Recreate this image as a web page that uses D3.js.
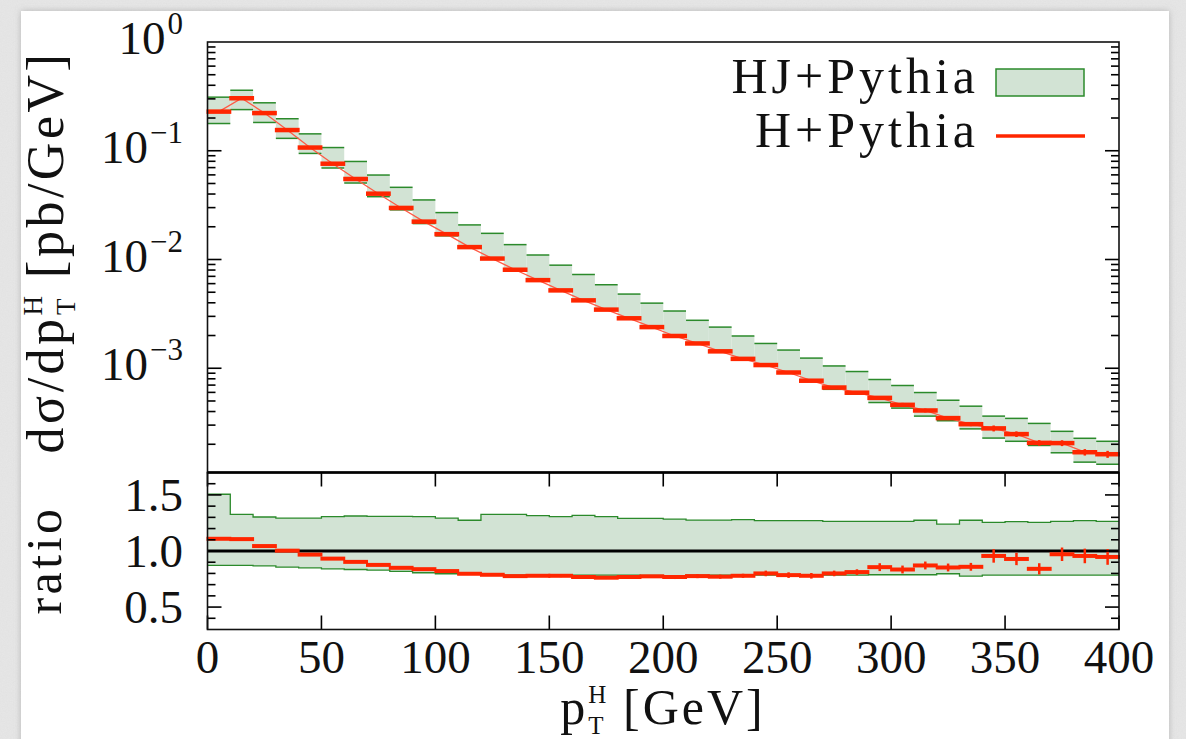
<!DOCTYPE html>
<html>
<head>
<meta charset="utf-8">
<script src="https://cdn.jsdelivr.net/npm/d3@7"></script>
<style>
  html, body { margin: 0; padding: 0; background: #e8e8e8; }
  svg { display: block; }
  text { font-family: 'Liberation Serif', 'DejaVu Serif', serif; fill: #111; }
</style>
</head>
<body>
<script>
const width = 1186, height = 739;

// bins of 10 GeV, lower edges
const binLo = [0,10,20,30,40,50,60,70,80,90,100,110,120,130,140,150,160,170,180,190,
               200,210,220,230,240,250,260,270,280,290,300,310,320,330,340,350,360,370,380,390];
const binWidth = 10;

// HJ+Pythia band, d sigma / d pT [pb/GeV]
const hjUpper = [0.311,0.360,0.276,0.197,0.143,0.107,0.0797,0.0598,0.0461,0.0353,
                 0.0270,0.0208,0.0174,0.0137,0.0110,0.00887,0.00728,0.00586,0.00481,0.00397,
                 0.00336,0.00276,0.00239,0.00198,0.00169,0.00147,0.00124,0.00105,0.000933,0.000788,
                 0.000694,0.000598,0.000508,0.000448,0.000363,0.000346,0.000311,0.000263,0.000227,0.000213];
const hjLower = [0.178,0.239,0.182,0.130,0.0945,0.0694,0.0505,0.0378,0.0286,0.0214,
                 0.0165,0.0128,0.0102,0.00805,0.00652,0.00525,0.00426,0.00350,0.00291,0.00242,
                 0.00200,0.00172,0.00146,0.00123,0.00105,0.00091,0.00078,0.00064,0.00058,0.000484,
                 0.000430,0.000363,0.000329,0.000277,0.000228,0.000213,0.000195,0.000167,0.000137,0.000131];
// H+Pythia
const hPythia = [0.229,0.304,0.222,0.155,0.107,0.0760,0.0550,0.0403,0.0298,0.0223,
                 0.0171,0.0130,0.0102,0.00805,0.00646,0.00520,0.00421,0.00346,0.00288,0.00239,
                 0.00198,0.00169,0.00143,0.00122,0.00107,0.000914,0.000768,0.000665,0.000596,0.000534,
                 0.000461,0.000409,0.000348,0.000306,0.000280,0.000248,0.000206,0.000205,0.000169,0.000162];

// ratio panel
const ratioUpper = [1.506,1.326,1.303,1.294,1.294,1.306,1.312,1.309,1.309,1.306,
                    1.294,1.274,1.326,1.326,1.315,1.306,1.318,1.306,1.291,1.291,
                    1.285,1.276,1.276,1.279,1.270,1.270,1.270,1.265,1.265,1.265,
                    1.265,1.274,1.240,1.274,1.256,1.262,1.256,1.265,1.270,1.265];
const ratioLower = [0.871,0.871,0.868,0.856,0.850,0.841,0.835,0.829,0.818,0.806,
                    0.797,0.791,0.788,0.785,0.785,0.785,0.785,0.785,0.785,0.783,
                    0.779,0.785,0.785,0.785,0.785,0.785,0.785,0.785,0.785,0.788,
                    0.788,0.788,0.797,0.776,0.785,0.785,0.785,0.785,0.785,0.785];
const ratioH = [1.109,1.106,1.044,1.003,0.968,0.932,0.903,0.876,0.850,0.838,
                0.821,0.797,0.788,0.776,0.779,0.779,0.768,0.762,0.768,0.774,
                0.768,0.776,0.771,0.779,0.800,0.785,0.779,0.800,0.812,0.856,
                0.835,0.871,0.853,0.859,0.956,0.929,0.841,0.971,0.956,0.947];
const ratioErr = [0.004,0.004,0.004,0.004,0.004,0.004,0.004,0.004,0.004,0.004,
                  0.008,0.008,0.008,0.008,0.008,0.012,0.012,0.012,0.012,0.012,
                  0.018,0.018,0.018,0.018,0.025,0.025,0.025,0.025,0.025,0.035,
                  0.035,0.035,0.035,0.035,0.060,0.055,0.050,0.060,0.065,0.070];

const xTicks = [0,50,100,150,200,250,300,350,400];
const yMainLabels = [1, 0.1, 0.01, 0.001];
const yMainExp = ["0", "\u22121", "\u22122", "\u22123"];
const yRatioLabels = [1.5, 1.0, 0.5];

const green = "#2b8a2b", bandFill = "#d2e3d4", red = "#ff2600";

const svg = d3.select("body").append("svg").attr("width", width).attr("height", height);

// paper background with noise border
const defs = svg.append("defs");
const f = defs.append("filter").attr("id", "noise").attr("x", 0).attr("y", 0).attr("width", "100%").attr("height", "100%");
f.append("feTurbulence").attr("type", "fractalNoise").attr("baseFrequency", 0.8).attr("numOctaves", 2).attr("seed", 3);
f.append("feColorMatrix").attr("type", "matrix")
  .attr("values", "0 0 0 0 0.5  0 0 0 0 0.5  0 0 0 0 0.5  0 0 0 0.35 0");
svg.append("rect").attr("width", width).attr("height", height).attr("fill", "#e7e7e7");
svg.append("rect").attr("width", width).attr("height", height).attr("filter", "url(#noise)").attr("opacity", 0.35);
const sh = defs.append("filter").attr("id", "shadow").attr("x", "-5%").attr("y", "-5%").attr("width", "110%").attr("height", "110%");
sh.append("feDropShadow").attr("dx", 0).attr("dy", 0).attr("stdDeviation", 3).attr("flood-color", "#888").attr("flood-opacity", 0.5);
svg.append("rect").attr("x", 21).attr("y", 11).attr("width", 1148).attr("height", 740)
  .attr("fill", "#fff").attr("filter", "url(#shadow)");

// scales
const mainTop = 42, mainBot = 472.5, ratioBot = 629.5;
const x = d3.scaleLinear().domain([0, 400]).range([207.5, 1119]);
const yMain = d3.scaleLog().domain([1.1e-4, 1]).range([mainBot, mainTop]);
const yRatio = d3.scaleLinear().domain([0.3, 1.7]).range([ratioBot, mainBot]);

const bins = binLo.map((lo, i) => ({
  lo, hi: lo + binWidth, mid: lo + binWidth / 2,
  up: hjUpper[i], dn: hjLower[i], h: hPythia[i],
  rUp: ratioUpper[i], rDn: ratioLower[i], r: ratioH[i], rErr: ratioErr[i]
}));

// ---------- main panel ----------
const main = svg.append("g");
main.selectAll("rect.band").data(bins).join("rect")
  .attr("x", d => x(d.lo)).attr("width", d => x(d.hi) - x(d.lo))
  .attr("y", d => yMain(d.up)).attr("height", d => yMain(d.dn) - yMain(d.up))
  .attr("fill", bandFill);
["up", "dn"].forEach(k => {
  main.selectAll("line.g" + k).data(bins).join("line")
    .attr("x1", d => x(d.lo)).attr("x2", d => x(d.hi))
    .attr("y1", d => yMain(d[k])).attr("y2", d => yMain(d[k]))
    .attr("stroke", green).attr("stroke-width", 1.5);
});
main.append("path").datum(bins)
  .attr("d", d3.line().x(d => x(d.mid)).y(d => yMain(d.h)))
  .attr("fill", "none").attr("stroke", "#ff5a45").attr("stroke-width", 1.3);
main.selectAll("line.err").data(bins).join("line")
  .attr("x1", d => x(d.mid)).attr("x2", d => x(d.mid))
  .attr("y1", d => yMain(d.h * (1 + d.rErr / d.r))).attr("y2", d => yMain(d.h * (1 - d.rErr / d.r)))
  .attr("stroke", red).attr("stroke-width", 2.5);
main.selectAll("line.h").data(bins).join("line")
  .attr("x1", d => x(d.lo) - 1).attr("x2", d => x(d.hi) + 1)
  .attr("y1", d => yMain(d.h)).attr("y2", d => yMain(d.h))
  .attr("stroke", red).attr("stroke-width", 4.5);

// main y ticks (inward, both sides)
const logTicks = yMain.ticks().filter(v => v < 1);
const isMajor = v => Math.abs(Math.log10(v) - Math.round(Math.log10(v))) < 1e-6;
main.selectAll("line.ytl").data(logTicks).join("line")
  .attr("x1", x(0)).attr("x2", v => x(0) + (isMajor(v) ? 14 : 8))
  .attr("y1", v => yMain(v)).attr("y2", v => yMain(v))
  .attr("stroke", "#000").attr("stroke-width", 1.6);
main.selectAll("line.ytr").data(logTicks).join("line")
  .attr("x1", x(400)).attr("x2", v => x(400) - (isMajor(v) ? 14 : 8))
  .attr("y1", v => yMain(v)).attr("y2", v => yMain(v))
  .attr("stroke", "#000").attr("stroke-width", 1.6);

// main y labels 10^n
yMainLabels.forEach((v, i) => {
  const t = svg.append("text").attr("x", 183).attr("y", yMain(v) + 12)
    .attr("text-anchor", "end").attr("font-size", 47);
  t.append("tspan").text("10");
  t.append("tspan").attr("font-size", 31).attr("dy", -20).attr("dx", 2).text(yMainExp[i]);
});

// frame
svg.append("rect").attr("x", x(0)).attr("y", mainTop).attr("width", x(400) - x(0)).attr("height", mainBot - mainTop)
  .attr("fill", "none").attr("stroke", "#111").attr("stroke-width", 1.6);

// legend
svg.append("text").attr("x", 979).attr("y", 93).attr("text-anchor", "end")
  .attr("font-size", 50).attr("letter-spacing", 4).text("HJ+Pythia");
svg.append("rect").attr("x", 996).attr("y", 69).attr("width", 88).attr("height", 27)
  .attr("fill", bandFill).attr("stroke", green).attr("stroke-width", 1.5);
svg.append("text").attr("x", 979).attr("y", 147).attr("text-anchor", "end")
  .attr("font-size", 50).attr("letter-spacing", 4).text("H+Pythia");
svg.append("line").attr("x1", 996).attr("x2", 1085).attr("y1", 136).attr("y2", 136)
  .attr("stroke", red).attr("stroke-width", 3.5);

// y label
const yl = svg.append("text").attr("transform", "translate(63,252) rotate(-90)")
  .attr("text-anchor", "middle").attr("font-size", 52).attr("letter-spacing", 3.5);
yl.append("tspan").text("d\u03c3/dp");
yl.append("tspan").attr("font-size", 27).attr("dy", -21).attr("letter-spacing", 0).text("H");
yl.append("tspan").attr("font-size", 27).attr("dx", -19).attr("dy", 33).attr("letter-spacing", 0).text("T");
yl.append("tspan").attr("dy", -12).attr("dx", 4).text(" [pb/GeV]");

// ---------- ratio panel ----------
const rp = svg.append("g");
const stepData = bins.map(d => d).concat([Object.assign({}, bins[bins.length - 1], { lo: 400 })]);
rp.append("path").datum(stepData)
  .attr("d", d3.area().curve(d3.curveStepAfter).x(d => x(d.lo)).y0(d => yRatio(d.rDn)).y1(d => yRatio(d.rUp)))
  .attr("fill", bandFill);
["rUp", "rDn"].forEach(k => {
  rp.append("path").datum(stepData)
    .attr("d", d3.line().curve(d3.curveStepAfter).x(d => x(d.lo)).y(d => yRatio(d[k])))
    .attr("fill", "none").attr("stroke", green).attr("stroke-width", 1.3);
});
rp.append("line").attr("x1", x(0)).attr("x2", x(400)).attr("y1", yRatio(1)).attr("y2", yRatio(1))
  .attr("stroke", "#000").attr("stroke-width", 3);
rp.selectAll("line.rerr").data(bins).join("line")
  .attr("x1", d => x(d.mid)).attr("x2", d => x(d.mid))
  .attr("y1", d => yRatio(d.r + d.rErr)).attr("y2", d => yRatio(d.r - d.rErr))
  .attr("stroke", red).attr("stroke-width", 2.5);
rp.selectAll("line.r").data(bins).join("line")
  .attr("x1", d => x(d.lo) - 1).attr("x2", d => x(d.hi) + 1)
  .attr("y1", d => yRatio(d.r)).attr("y2", d => yRatio(d.r))
  .attr("stroke", red).attr("stroke-width", 4);

// ratio ticks
const rTicks = yRatio.ticks(14).filter(v => v > 0.35 && v < 1.65);
const rMajor = v => yRatioLabels.some(l => Math.abs(l - v) < 1e-6);
rp.selectAll("line.rtl").data(rTicks).join("line")
  .attr("x1", x(0)).attr("x2", v => x(0) + (rMajor(v) ? 14 : 8))
  .attr("y1", v => yRatio(v)).attr("y2", v => yRatio(v))
  .attr("stroke", "#000").attr("stroke-width", 1.6);
rp.selectAll("line.rtr").data(rTicks).join("line")
  .attr("x1", x(400)).attr("x2", v => x(400) - (rMajor(v) ? 14 : 8))
  .attr("y1", v => yRatio(v)).attr("y2", v => yRatio(v))
  .attr("stroke", "#000").attr("stroke-width", 1.6);
rp.selectAll("line.xtt").data(xTicks).join("line")
  .attr("x1", v => x(v)).attr("x2", v => x(v))
  .attr("y1", mainBot).attr("y2", mainBot + 14)
  .attr("stroke", "#000").attr("stroke-width", 1.6);
rp.selectAll("line.xtb").data(xTicks).join("line")
  .attr("x1", v => x(v)).attr("x2", v => x(v))
  .attr("y1", ratioBot).attr("y2", ratioBot - 14)
  .attr("stroke", "#000").attr("stroke-width", 1.6);

rp.append("rect").attr("x", x(0)).attr("y", mainBot).attr("width", x(400) - x(0)).attr("height", ratioBot - mainBot)
  .attr("fill", "none").attr("stroke", "#111").attr("stroke-width", 1.6);
rp.append("line").attr("x1", x(0)).attr("x2", x(400)).attr("y1", mainBot).attr("y2", mainBot)
  .attr("stroke", "#000").attr("stroke-width", 2.6);

rp.selectAll("text.rl").data(yRatioLabels).join("text")
  .attr("x", 183).attr("y", v => yRatio(v) + 16)
  .attr("text-anchor", "end").attr("font-size", 47)
  .text(v => v.toFixed(1));

svg.append("text").attr("transform", "translate(61,560) rotate(-90)")
  .attr("text-anchor", "middle").attr("font-size", 50).attr("letter-spacing", 3.5).text("ratio");

// x tick labels
svg.selectAll("text.xl").data(xTicks).join("text")
  .attr("x", v => x(v)).attr("y", 673)
  .attr("text-anchor", "middle").attr("font-size", 47)
  .text(v => v);

// x label
const xl = svg.append("text").attr("x", 663).attr("y", 724).attr("text-anchor", "middle")
  .attr("font-size", 50).attr("letter-spacing", 3);
xl.append("tspan").text("p");
xl.append("tspan").attr("font-size", 25).attr("dy", -21).attr("letter-spacing", 0).text("H");
xl.append("tspan").attr("font-size", 25).attr("dx", -18).attr("dy", 31).attr("letter-spacing", 0).text("T");
xl.append("tspan").attr("dy", -10).attr("dx", 4).text(" [GeV]");
</script>
</body>
</html>
